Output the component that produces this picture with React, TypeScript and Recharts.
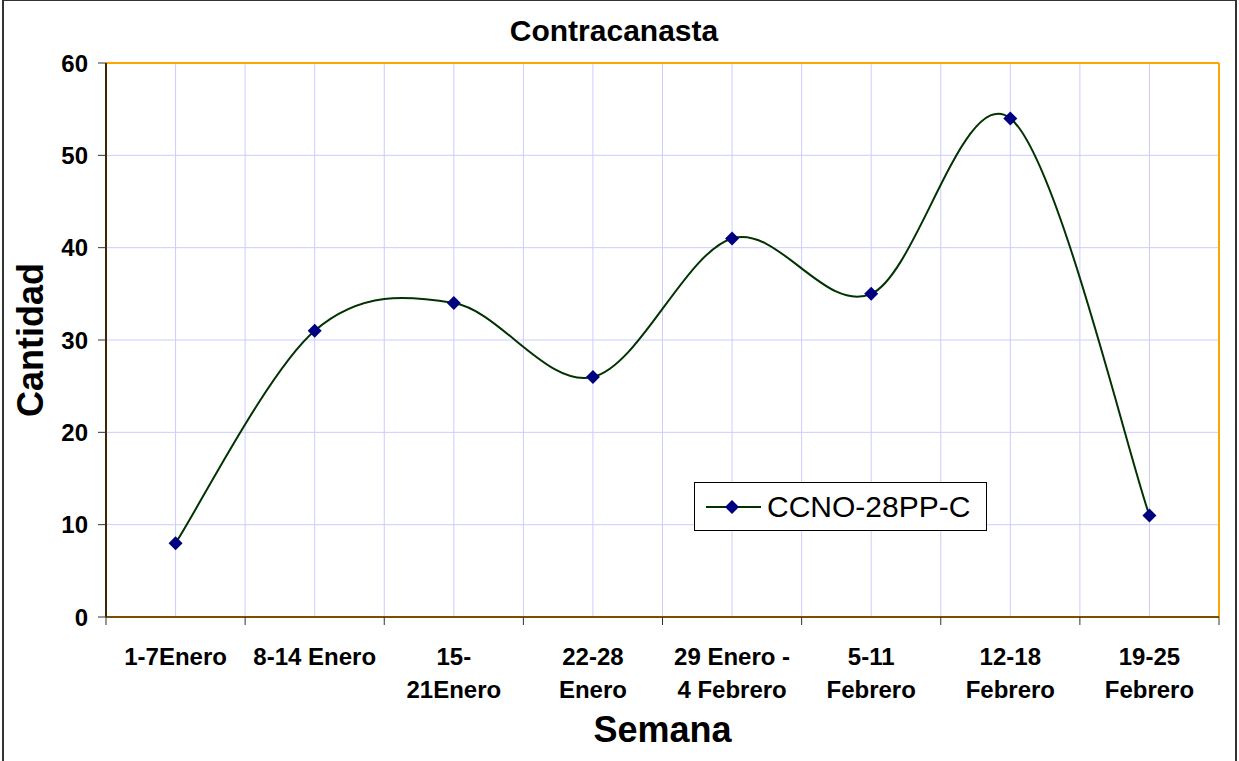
import React from "react";
import {
  LineChart,
  Line,
  XAxis,
  YAxis,
  CartesianGrid,
  Legend,
  ReferenceLine,
  Label,
} from "recharts";

// semanas (una fila por línea de la etiqueta)
const weekLabels: string[][] = [
  ["1-7Enero"],
  ["8-14 Enero"],
  ["15-", "21Enero"],
  ["22-28", "Enero"],
  ["29 Enero -", "4 Febrero"],
  ["5-11", "Febrero"],
  ["12-18", "Febrero"],
  ["19-25", "Febrero"],
];

const cantidad = [8, 31, 34, 26, 41, 35, 54, 11];
const yTicks = [0, 10, 20, 30, 40, 50, 60];
const seriesName = "CCNO-28PP-C";

const FONT = "'Liberation Sans', Arial, Helvetica, sans-serif";

// ticks at category edges and centers (half steps)
const xTicks = Array.from({ length: weekLabels.length * 2 + 1 }, (_, i) => i / 2);

const data = cantidad.map((v, i) => ({
  pos: i + 0.5,
  semana: weekLabels[i].join(" "),
  cantidad: v,
}));

// curva suavizada tipo Excel (Catmull-Rom -> Bezier)
function excelSmooth(context: any) {
  let pts: number[][] = [];
  return {
    areaStart() {},
    areaEnd() {},
    lineStart() {
      pts = [];
    },
    lineEnd() {
      const n = pts.length;
      if (!n) return;
      context.moveTo(pts[0][0], pts[0][1]);
      for (let i = 0; i < n - 1; i++) {
        const p0 = pts[i - 1] || pts[i];
        const p1 = pts[i];
        const p2 = pts[i + 1];
        const p3 = pts[i + 2] || p2;
        context.bezierCurveTo(
          p1[0] + (p2[0] - p0[0]) / 6,
          p1[1] + (p2[1] - p0[1]) / 6,
          p2[0] - (p3[0] - p1[0]) / 6,
          p2[1] - (p3[1] - p1[1]) / 6,
          p2[0],
          p2[1]
        );
      }
    },
    point(x: number, y: number) {
      pts.push([+x, +y]);
    },
  };
}

const renderDiamond = (p: any) => {
  const { cx, cy, index } = p;
  const s = 7;
  return (
    <polygon
      key={`d-${index}`}
      points={`${cx},${cy - s} ${cx + s},${cy} ${cx},${cy + s} ${cx - s},${cy}`}
      fill="#000080"
    />
  );
};

const XTick = (props: any) => {
  const { x, y, payload } = props;
  const v = payload.value;
  if (Number.isInteger(v)) {
    return <line x1={x} y1={y - 8} x2={x} y2={y} stroke="#333" strokeWidth={1} />;
  }
  const lines = weekLabels[Math.floor(v)] || [];
  return (
    <g>
      {lines.map((t, i) => (
        <text
          key={i}
          x={x}
          y={y + 40 + i * 33}
          textAnchor="middle"
          fontFamily={FONT}
          fontWeight="bold"
          fontSize={24}
          fill="#000"
        >
          {t}
        </text>
      ))}
    </g>
  );
};

const LegendBox = () => (
  <div
    style={{
      width: 293,
      height: 49,
      boxSizing: "border-box",
      border: "1px solid #000",
      background: "#fff",
      display: "flex",
      alignItems: "center",
      fontFamily: FONT,
      fontSize: 30,
    }}
  >
    <svg width={72} height={49} style={{ flexShrink: 0 }}>
      <line x1={11} y1={25} x2={66} y2={25} stroke="#003300" strokeWidth={2} />
      <polygon points="37,18 44,25 37,32 30,25" fill="#000080" />
    </svg>
    <span>{seriesName}</span>
  </div>
);

export default function App() {
  return (
    <div
      style={{
        position: "absolute",
        left: 0,
        top: 0,
        width: 1239,
        height: 761,
        overflow: "hidden",
        background: "#fff",
      }}
    >
      <div
        style={{
          position: "absolute",
          left: 2,
          top: -1,
          width: 1235,
          height: 800,
          boxSizing: "border-box",
          border: "2px solid #333",
        }}
      />
      <div
        style={{
          position: "absolute",
          left: 0,
          top: 16,
          width: 1228,
          textAlign: "center",
          fontFamily: FONT,
          fontWeight: "bold",
          fontSize: 30,
          lineHeight: "29px",
        }}
      >
        Contracanasta
      </div>
      <LineChart
        width={1239}
        height={761}
        data={data}
        margin={{ top: 63, right: 20, left: 0, bottom: 0 }}
        style={{ position: "absolute", left: 0, top: 0 }}
      >
        <CartesianGrid stroke="#ccccff" strokeWidth={1} />
        <XAxis
          dataKey="pos"
          type="number"
          domain={[0, weekLabels.length]}
          ticks={xTicks}
          interval={0}
          height={144}
          tickSize={8}
          tickMargin={0}
          tickLine={false}
          tick={<XTick />}
          axisLine={{ stroke: "#7a4f00", strokeWidth: 2 }}
        >
          <Label
            content={(p: any) => {
              const vb = p.viewBox || {};
              return (
                <text
                  x={vb.x + vb.width / 2}
                  y={vb.y + 125}
                  textAnchor="middle"
                  fontFamily={FONT}
                  fontWeight="bold"
                  fontSize={36}
                  fill="#000"
                >
                  Semana
                </text>
              );
            }}
          />
        </XAxis>
        <YAxis
          domain={[0, 60]}
          ticks={yTicks}
          width={106}
          tickSize={8}
          tickMargin={10}
          tickLine={{ stroke: "#333" }}
          axisLine={{ stroke: "#3d2800", strokeWidth: 2 }}
          tick={{ fontFamily: FONT, fontWeight: "bold", fontSize: 24, fill: "#000" }}
        >
          <Label
            content={(p: any) => {
              const vb = p.viewBox || {};
              const cy = vb.y + vb.height / 2;
              return (
                <text
                  x={43}
                  y={cy}
                  transform={`rotate(-90, 43, ${cy})`}
                  textAnchor="middle"
                  fontFamily={FONT}
                  fontWeight="bold"
                  fontSize={36}
                  fill="#000"
                >
                  Cantidad
                </text>
              );
            }}
          />
        </YAxis>
        <ReferenceLine y={60} stroke="#FFA500" strokeWidth={2} />
        <ReferenceLine x={weekLabels.length} stroke="#FFA500" strokeWidth={2} />
        <Legend
          verticalAlign="middle"
          align="center"
          layout="horizontal"
          wrapperStyle={{ left: 694, top: 482, width: 293, height: 49 }}
          content={() => <LegendBox />}
        />
        <Line
          type={excelSmooth as any}
          dataKey="cantidad"
          name={seriesName}
          stroke="#003300"
          strokeWidth={2}
          dot={renderDiamond}
          activeDot={false}
          isAnimationActive={false}
        />
      </LineChart>
    </div>
  );
}
